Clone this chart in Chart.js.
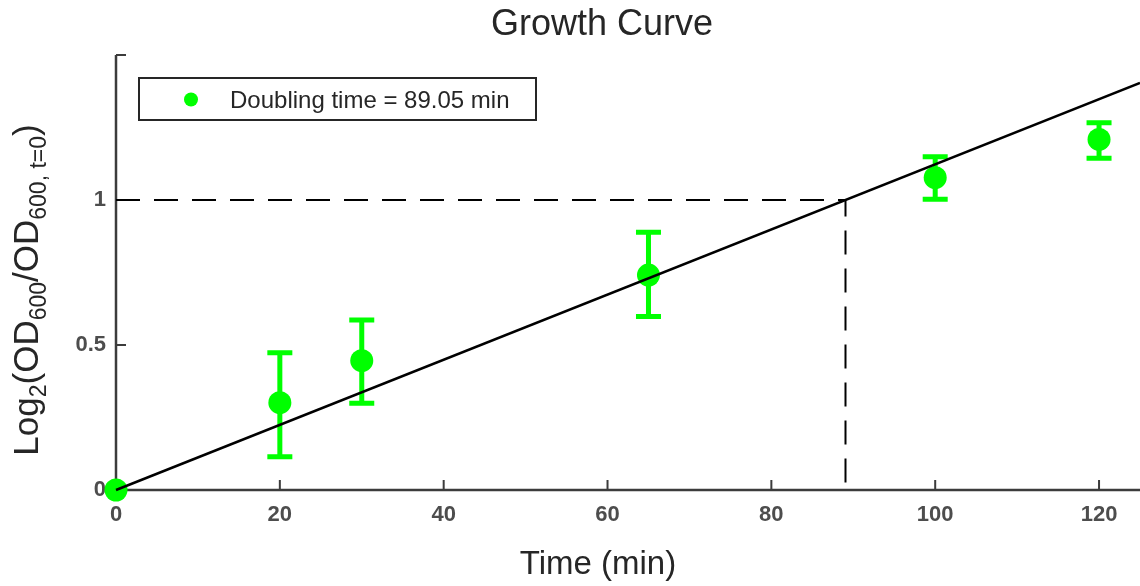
<!DOCTYPE html>
<html>
<head>
<meta charset="utf-8">
<script src="https://cdn.jsdelivr.net/npm/chart.js@4.4.0/dist/chart.umd.min.js"></script>
<style>
  html, body { margin: 0; padding: 0; background: #fff; }
  #wrap { width: 1140px; height: 586px; }
</style>
</head>
<body>
<div id="wrap"><canvas id="growthChart" width="1140" height="586"></canvas></div>
<script>
const timeMin = [0, 20, 30, 65, 100, 120];
const log2Ratio = [0, 0.301, 0.446, 0.741, 1.077, 1.209];
const errLow = [0, 0.115, 0.299, 0.598, 1.003, 1.144];
const errHigh = [0, 0.473, 0.586, 0.889, 1.149, 1.266];

// fitted line end points and doubling time guide
const fitTime = [0, 125];
const fitLog = [0, 1.404];
const doublingTime = 89.05;

const xTicks = [0, 20, 40, 60, 80, 100, 120];
const yTicks = [0, 0.5, 1, 1.5];
const yTickLabels = ["0", "0.5", "1", ""];

const GREEN = "#00ff00";
const AXIS = "#3c3c3c";
const FONT = "'Liberation Sans', Arial, sans-serif";

const decor = {
  id: "decor",
  beforeDatasetsDraw(chart) {
    const { ctx, chartArea: a, scales: { x, y } } = chart;
    ctx.save();
    // axes (box off, ticks pointing in)
    ctx.strokeStyle = AXIS;
    ctx.lineWidth = 2.5;
    ctx.beginPath();
    ctx.moveTo(a.left, a.top);
    ctx.lineTo(a.left, a.bottom);
    ctx.lineTo(a.right, a.bottom);
    ctx.stroke();
    ctx.lineWidth = 2;
    ctx.beginPath();
    xTicks.forEach(v => {
      const px = x.getPixelForValue(v);
      ctx.moveTo(px, a.bottom);
      ctx.lineTo(px, a.bottom - 10);
    });
    yTicks.forEach(v => {
      const py = y.getPixelForValue(v);
      ctx.moveTo(a.left, py);
      ctx.lineTo(a.left + 10, py);
    });
    ctx.stroke();

    // error bars
    ctx.strokeStyle = GREEN;
    ctx.lineWidth = 5;
    timeMin.forEach((t, i) => {
      if (errHigh[i] === errLow[i]) return;
      const px = x.getPixelForValue(t);
      const lo = y.getPixelForValue(errLow[i]);
      const hi = y.getPixelForValue(errHigh[i]);
      ctx.beginPath();
      ctx.moveTo(px, lo); ctx.lineTo(px, hi);
      ctx.moveTo(px - 12.5, lo); ctx.lineTo(px + 12.5, lo);
      ctx.moveTo(px - 12.5, hi); ctx.lineTo(px + 12.5, hi);
      ctx.stroke();
    });
    ctx.restore();
  },
  afterDraw(chart) {
    const { ctx } = chart;
    ctx.save();
    ctx.fillStyle = "#262626";
    ctx.textBaseline = "alphabetic";
    ctx.textAlign = "center";

    ctx.font = "36px " + FONT;
    ctx.fillText("Growth Curve", 602, 35);

    ctx.font = "33px " + FONT;
    ctx.fillText("Time (min)", 598, 574);

    // y label with subscripts, rotated
    const parts = [["Log", 0], ["2", 1], ["(OD", 0], ["600", 1], ["/OD", 0], ["600, t=0", 1], [")", 0]];
    const mainFont = "35px " + FONT, subFont = "23px " + FONT;
    let total = 0;
    parts.forEach(p => { ctx.font = p[1] ? subFont : mainFont; total += ctx.measureText(p[0]).width; });
    ctx.translate(38, 290);
    ctx.rotate(-Math.PI / 2);
    ctx.textAlign = "left";
    let cx = -total / 2;
    parts.forEach(p => {
      ctx.font = p[1] ? subFont : mainFont;
      ctx.fillText(p[0], cx, p[1] ? 8 : 0);
      cx += ctx.measureText(p[0]).width;
    });
    ctx.setTransform(1, 0, 0, 1, 0, 0);

    // legend box
    ctx.strokeStyle = "#262626";
    ctx.lineWidth = 2;
    ctx.fillStyle = "#fff";
    ctx.fillRect(139, 78, 397, 42);
    ctx.strokeRect(139, 78, 397, 42);
    ctx.fillStyle = GREEN;
    ctx.beginPath();
    ctx.arc(191, 99.5, 7, 0, Math.PI * 2);
    ctx.fill();
    ctx.fillStyle = "#262626";
    ctx.font = "24px " + FONT;
    ctx.fillText("Doubling time = " + doublingTime.toFixed(2) + " min", 230, 108);
    ctx.restore();
  }
};

const ctx = document.getElementById("growthChart").getContext("2d");
new Chart(ctx, {
  type: "scatter",
  data: {
    datasets: [
      {
        type: "line",
        data: fitTime.map((t, i) => ({ x: t, y: fitLog[i] })),
        borderColor: "#000",
        borderWidth: 2.5,
        pointRadius: 0,
        clip: false
      },
      {
        type: "line",
        data: [{ x: 0, y: 1 }, { x: doublingTime, y: 1 }, { x: doublingTime, y: 0 }],
        borderColor: "#000",
        borderWidth: 2,
        borderDash: [24, 14],
        pointRadius: 0
      },
      {
        data: timeMin.map((t, i) => ({ x: t, y: log2Ratio[i] })),
        backgroundColor: GREEN,
        borderWidth: 0,
        pointRadius: 11.5,
        clip: false
      }
    ]
  },
  options: {
    responsive: false,
    animation: false,
    devicePixelRatio: 1,
    layout: { autoPadding: false, padding: { left: 0, top: 55, right: 0, bottom: 56 } },
    plugins: { legend: { display: false }, tooltip: { enabled: false } },
    scales: {
      x: {
        type: "linear",
        min: 0,
        max: 125,
        grid: { display: false, drawTicks: false },
        border: { display: false },
        afterBuildTicks: s => { s.ticks = xTicks.map(v => ({ value: v })); },
        afterFit: s => { s.height = 40; s.paddingLeft = 0; s.paddingRight = 0; },
        ticks: {
          autoSkip: false,
          maxRotation: 0,
          padding: 12,
          color: "#4d4d4d",
          font: { family: FONT, size: 22, weight: "bold" }
        }
      },
      y: {
        type: "linear",
        min: 0,
        max: 1.5,
        grid: { display: false, drawTicks: false },
        border: { display: false },
        afterBuildTicks: s => { s.ticks = yTicks.map(v => ({ value: v })); },
        afterFit: s => { s.width = 116; s.paddingTop = 0; s.paddingBottom = 0; },
        ticks: {
          autoSkip: false,
          padding: 10,
          color: "#4d4d4d",
          font: { family: FONT, size: 22, weight: "bold" },
          callback: (v, i) => yTickLabels[i]
        }
      }
    }
  },
  plugins: [decor]
});
</script>
</body>
</html>
